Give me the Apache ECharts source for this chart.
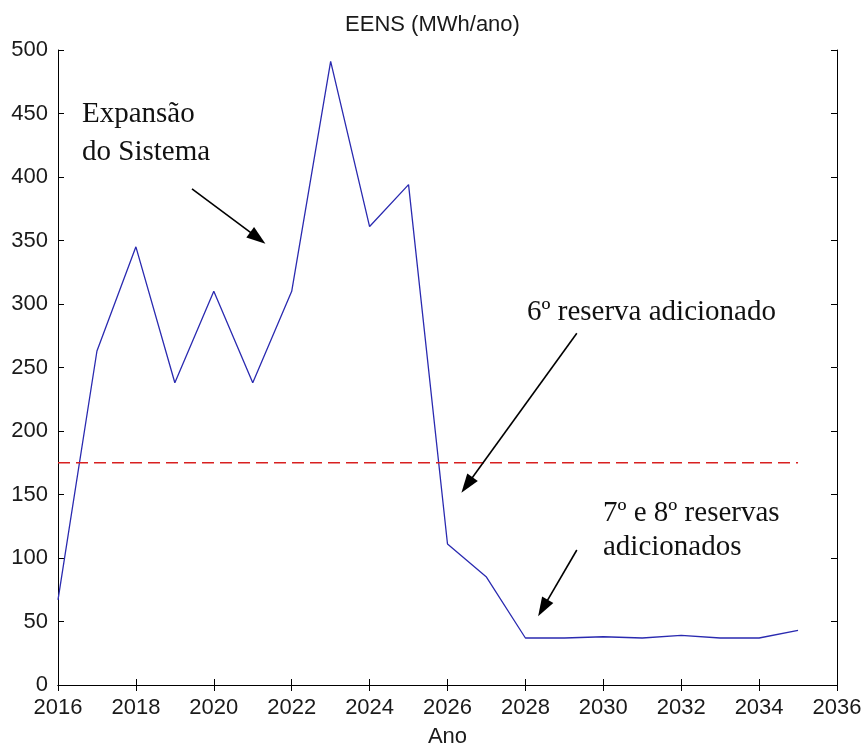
<!DOCTYPE html>
<html>
<head>
<meta charset="utf-8">
<script src="https://cdn.jsdelivr.net/npm/echarts@6/dist/echarts.min.js"></script>
<style>html,body{margin:0;padding:0;background:#fff}#c{width:865px;height:749px}</style>
</head>
<body>
<div id="c"></div>
<script>
const years = [2016,2017,2018,2019,2020,2021,2022,2023,2024,2025,2026,2027,2028,2029,2030,2031,2032,2033,2034,2035];
const eens  = [67,263,345,238,310,238,310,491,361,394,111,85,37,37,38,37,39,37,37,43];
const limitValue = 175;
const limitYears = [2016, 2035];
const arrows = [
  {from:[2019.44, 390.6], to:[2021.13, 352]},
  {from:[2029.32, 277],   to:[2026.50, 157.5]},
  {from:[2029.32, 106.3], to:[2028.45, 60.6]}
];
const notes = [
  {text:'Expansão', x:82, y:116},
  {text:'do Sistema', x:82, y:154},
  {text:'6º reserva adicionado', x:527, y:314},
  {text:'7º e 8º reservas', x:603, y:515},
  {text:'adicionados', x:603, y:549}
];

const chart = echarts.init(document.getElementById('c'), null, {renderer:'canvas'});
const axisFont = {fontFamily:'Liberation Sans', fontSize:22, color:'#1a1a1a'};
const line = {show:true, lineStyle:{color:'#000', width:1}};
chart.setOption({
  animation:false,
  backgroundColor:'#fff',
  title:{text:'EENS (MWh/ano)', left:'center', top:9,
    textStyle:{fontFamily:'Liberation Sans', fontSize:22, fontWeight:'normal', color:'#1a1a1a'}},
  grid:{left:58, right:28, top:50, bottom:64, containLabel:false, outerBoundsMode:'none'},
  xAxis:[{
    type:'value', min:2016, max:2036, interval:2, position:'bottom',
    name:'Ano', nameLocation:'middle', nameGap:41,
    nameTextStyle:{fontFamily:'Liberation Sans', fontSize:22, color:'#1a1a1a'},
    axisLine:line, axisTick:{show:true, inside:true, length:6, lineStyle:{color:'#000'}},
    axisLabel:Object.assign({margin:12, formatter:v=>String(v)}, axisFont),
    splitLine:{show:false}
  },{
    type:'value', min:2016, max:2036, interval:2, position:'top',
    axisLine:line, axisTick:{show:true, inside:true, length:6, lineStyle:{color:'#000'}},
    axisLabel:{show:false}, splitLine:{show:false}
  }],
  yAxis:[{
    type:'value', min:0, max:500, interval:50, position:'left',
    axisLine:line, axisTick:{show:true, inside:true, length:6, lineStyle:{color:'#000'}},
    axisLabel:Object.assign({margin:10}, axisFont),
    splitLine:{show:false}
  },{
    type:'value', min:0, max:500, interval:50, position:'right',
    axisLine:line, axisTick:{show:true, inside:true, length:6, lineStyle:{color:'#000'}},
    axisLabel:{show:false}, splitLine:{show:false}
  }],
  series:[{
    type:'line', data:years.map((y,i)=>[y, eens[i]]),
    showSymbol:false, symbol:'none',
    lineStyle:{color:'#2a2ab0', width:1.3},
    markLine:{
      silent:true, animation:false,
      symbol:['none','triangle'], symbolSize:[13,19],
      label:{show:false},
      lineStyle:{color:'#000', width:1.6, type:'solid'},
      data:arrows.map(a=>[{coord:a.from},{coord:a.to}])
    }
  },{
    type:'line', data:limitYears.map(y=>[y, limitValue]),
    showSymbol:false, symbol:'none',
    lineStyle:{color:'#d82020', width:1.3, type:[12,6]}
  }],
  graphic:notes.map(n=>({
    type:'text', left:n.x, top:n.y-16, silent:true,
    style:{text:n.text, fill:'#111', font:'29px "Liberation Serif"'}
  }))
});
</script>
</body>
</html>
